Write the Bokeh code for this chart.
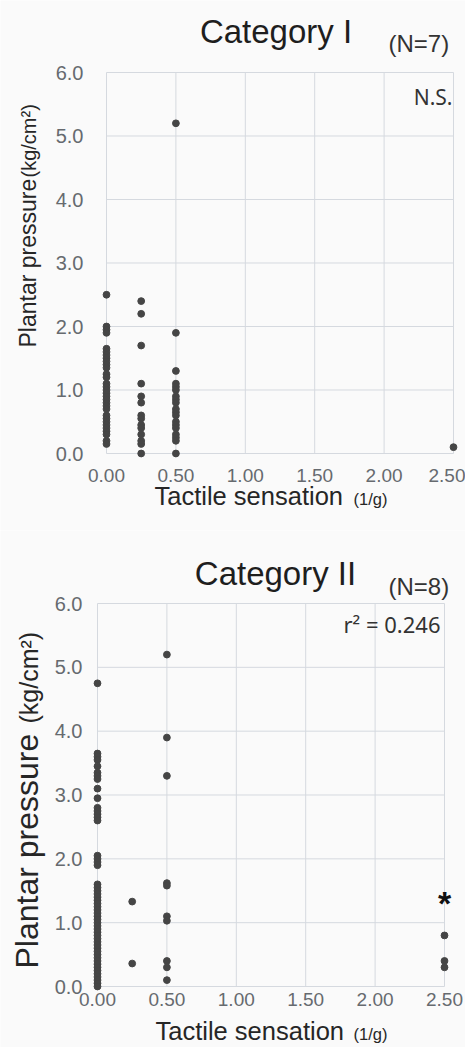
from bokeh.plotting import figure
from bokeh.layouts import column
from bokeh.models import Range1d, FixedTicker, Label
from bokeh.embed import file_html
from bokeh.resources import INLINE

# ---------------- data ----------------
column_x = [0.0, 0.25, 0.50, 2.50]

# Category I (N=7): plantar pressure values per tactile-sensation column
cat1_at_000 = [2.5, 2.0, 1.95, 1.9, 1.65, 1.6, 1.55, 1.5, 1.45, 1.4, 1.35, 1.25, 1.2,
               1.1, 1.05, 1.0, 0.95, 0.9, 0.85, 0.8, 0.75, 0.7, 0.6, 0.55, 0.5, 0.45,
               0.4, 0.35, 0.3, 0.2, 0.15]
cat1_at_025 = [2.4, 2.2, 1.7, 1.1, 0.9, 0.8, 0.6, 0.55, 0.45, 0.4, 0.3, 0.2, 0.15, 0.0]
cat1_at_050 = [5.2, 1.9, 1.3, 1.1, 1.05, 1.0, 0.9, 0.85, 0.8, 0.7, 0.65, 0.6, 0.5,
               0.45, 0.4, 0.3, 0.25, 0.2, 0.0]
cat1_at_250 = [0.1]

# Category II (N=8)
cat2_at_000 = [4.75, 3.65, 3.6, 3.55, 3.45, 3.35, 3.3, 3.25, 3.1, 2.95, 2.8, 2.75, 2.7,
               2.65, 2.6, 2.05, 2.0, 1.95, 1.9, 1.6, 1.55, 1.5, 1.45, 1.4, 1.35, 1.3,
               1.25, 1.2, 1.15, 1.1, 1.05, 1.0, 0.95, 0.9, 0.85, 0.8, 0.75, 0.7, 0.65,
               0.6, 0.55, 0.5, 0.45, 0.4, 0.35, 0.3, 0.25, 0.2, 0.15, 0.1, 0.05, 0.0]
cat2_at_025 = [1.33, 0.36]
cat2_at_050 = [5.2, 3.9, 3.3, 1.62, 1.58, 1.1, 1.03, 0.4, 0.3, 0.1]
cat2_at_250 = [0.8, 0.4, 0.3]

x_ticks = [0.0, 0.5, 1.0, 1.5, 2.0, 2.5]
x_tick_labels = ["0.00", "0.50", "1.00", "1.50", "2.00", "2.50"]
y_ticks = [0, 1, 2, 3, 4, 5, 6]
y_tick_labels = ["0.0", "1.0", "2.0", "3.0", "4.0", "5.0", "6.0"]

SANS = "Liberation Sans"
NOTE = "Noto Sans"
DOT = "#454545"
GRID = "#d5d9df"
TICK = "#666a6f"
BG = "#fafafa"
W = 465
BASE_SHIFT = 0.37   # measured offset of Bokeh's alphabetic anchor, in em


def make_chart(cols, title, nlab, note, geom, lab):
    H = geom["h"]
    ppx, ppy = geom["ppx"], geom["ppy"]
    x0, y0 = geom["x0"], geom["y0"] - geom["top"]   # pixel position of data origin in canvas

    def X(px):
        return (px - x0) / ppx

    def Y(py):  # py given in page pixels
        return (y0 - (py - geom["top"])) / ppy

    # frame covers the whole canvas; axes are pinned at the data origin
    p = figure(x_range=Range1d(X(0), X(W)),
               y_range=Range1d((y0 - H) / ppy, y0 / ppy),
               width=W, height=H, output_backend="svg", toolbar_location=None)
    p.min_border = 0
    p.min_border_left = p.min_border_right = p.min_border_top = p.min_border_bottom = 0
    p.background_fill_color = BG
    p.border_fill_color = BG
    p.outline_line_color = None
    p.grid.visible = False

    # grid lines drawn from tick values so they stop at the axes
    p.segment(x0=x_ticks, y0=[y_ticks[0]] * len(x_ticks), x1=x_ticks,
              y1=[y_ticks[-1]] * len(x_ticks), line_color=GRID, line_width=1)
    p.segment(x0=[x_ticks[0]] * len(y_ticks), y0=y_ticks, x1=[x_ticks[-1]] * len(y_ticks),
              y1=y_ticks, line_color=GRID, line_width=1)

    xs, ys = [], []
    for cx, vals in zip(column_x, cols):
        xs += [cx] * len(vals)
        ys += vals
    p.scatter(xs, ys, size=6.8, color=DOT, line_color=DOT)

    for ax, ticks, labels, so in ((p.xaxis[0], x_ticks, x_tick_labels, geom["xso"]),
                                  (p.yaxis[0], y_ticks, y_tick_labels, geom["yso"])):
        ax.fixed_location = 0
        ax.ticker = FixedTicker(ticks=ticks)
        ax.major_label_overrides = {t: l for t, l in zip(ticks, labels)}
        ax.axis_line_color = None
        ax.major_tick_line_color = None
        ax.minor_tick_line_color = None
        ax.major_tick_out = 0
        ax.major_tick_in = 0
        ax.major_label_standoff = so
        ax.major_label_text_font = SANS
        ax.major_label_text_color = TICK
    p.xaxis.major_label_text_font_size = "19px"
    p.yaxis.major_label_text_font_size = "20px"

    def add(px, py, text, size, font=SANS, color="#222222", align="left", angle=0,
            style="normal"):
        if angle == 0:
            py = py - BASE_SHIFT * size
        else:
            px = px - BASE_SHIFT * size
        p.add_layout(Label(x=X(px), y=Y(py), text=text, text_font=font,
                           text_font_size=f"{size}px", text_color=color,
                           text_align=align, text_baseline="alphabetic",
                           angle=angle, angle_units="deg", text_font_style=style))

    add(*lab["title"], title, 33, align="center", color="#1e1e1e")
    add(*lab["n"], nlab, 24, color="#333333")
    add(*lab["note"], note, lab["note_size"], font=NOTE, color="#333333", align="right")
    add(*lab["ylab"], "Plantar pressure", lab["ylab_size"], angle=90, color="#262626")
    add(*lab["yunit"], "(kg/cm²)", lab["yunit_size"], angle=90, color="#262626")
    add(*lab["xlab"], "Tactile sensation", 25.5, color="#262626")
    add(*lab["xunit"], "(1/g)", 16.5, color="#262626")
    if "star" in lab:
        add(*lab["star"], "*", 34, align="center", color="#111111", style="bold")
    return p


# geometry in page pixels: data origin (x0, y0), pixels per unit, canvas top and height
geom1 = dict(top=0, h=530, ppx=138.8, ppy=63.5, x0=106, y0=453, xso=15, yso=23)
lab1 = dict(title=(275.5, 43), n=(388, 52), note=(452, 104), note_size=21,
            ylab=(36, 347), ylab_size=23, yunit=(36, 177), yunit_size=20,
            xlab=(154, 505), xunit=(353, 505))

geom2 = dict(top=530, h=517, ppx=138.8, ppy=63.83, x0=97, y0=986, xso=6, yso=15)
lab2 = dict(title=(275, 585), n=(388, 595), note=(440, 632), note_size=22,
            ylab=(38, 968), ylab_size=32, yunit=(38, 723), yunit_size=25,
            xlab=(155, 1040), xunit=(353, 1040), star=(444, 915))

p1 = make_chart([cat1_at_000, cat1_at_025, cat1_at_050, cat1_at_250],
                "Category I", "(N=7)", "N.S.", geom1, lab1)
p2 = make_chart([cat2_at_000, cat2_at_025, cat2_at_050, cat2_at_250],
                "Category II", "(N=8)", "r² = 0.246", geom2, lab2)

layout = column(p1, p2, spacing=0)
open("out.html", "w").write(file_html(layout, INLINE))
